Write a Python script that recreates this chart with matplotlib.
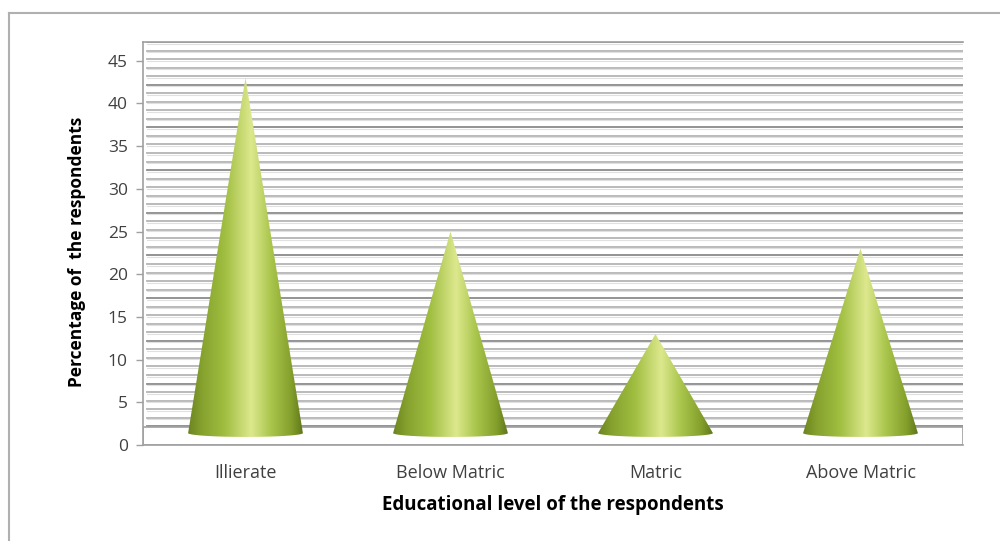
import numpy as np
import matplotlib.pyplot as plt
from matplotlib.patches import Polygon, Rectangle
from matplotlib.colors import LinearSegmentedColormap
from matplotlib.lines import Line2D

plt.rcParams['font.family'] = ['Open Sans', 'DejaVu Sans']

categories = ['Illierate', 'Below Matric', 'Matric', 'Above Matric']
percent = [42, 24, 12, 22]
y_ticks = [0, 5, 10, 15, 20, 25, 30, 35, 40, 45]

# 3D look: back wall is shifted up, cones stand on a thin floor slab
wall_shift = 2.2
floor_top = 2.1
cone_floor = 1.0
base_y = 1.4
half_w = 0.28
ell_h = 0.45

fig = plt.figure(figsize=(10, 5.41), dpi=100)
ax = fig.add_axes([0.143, 0.1774, 0.820, 0.745])
ax.set_xlim(-0.5, 3.5)
ax.set_ylim(0, 47.2)

# back wall grid, one line per unit, darker every 5
for v in range(0, 46):
    y = v + wall_shift
    col = '#8a8a8a' if v % 5 == 0 else '#b4b4b4'
    ax.axhline(y, xmin=0.005, xmax=1, color=col, lw=1.3, zorder=1)
    ax.axhline(y - 0.18, xmin=0.005, xmax=1, color='#e0e0e0', lw=0.8, zorder=1)

# floor slab
ax.add_patch(Rectangle((-0.5, 0), 4.0, floor_top, facecolor='white',
                       edgecolor='#a0a0a0', lw=1.2, zorder=2))

cone_cmap = LinearSegmentedColormap.from_list('cone', [
    (0.00, '#6c8420'), (0.12, '#86a22e'), (0.32, '#a0be40'),
    (0.55, '#dde88e'), (0.72, '#aac64c'), (0.90, '#84a02c'),
    (1.00, '#61781a')])
grad = np.linspace(0, 1, 256).reshape(1, -1)

for i, val in enumerate(percent):
    tip = cone_floor + val
    t = np.linspace(0, np.pi, 60)
    arc_x = i + half_w * np.cos(t)
    arc_y = base_y - ell_h * np.sin(t)
    verts = [(i, tip), (i + half_w, base_y)] + list(zip(arc_x, arc_y)) + [(i - half_w, base_y)]
    clip = Polygon(verts, closed=True, transform=ax.transData)
    im = ax.imshow(grad, cmap=cone_cmap, aspect='auto', interpolation='bicubic',
                   extent=[i - half_w, i + half_w, base_y - ell_h, tip], zorder=3)
    im.set_clip_path(clip)

ax.set_xlim(-0.5, 3.5)
ax.set_ylim(0, 47.2)

ax.set_yticks(y_ticks)
ax.set_xticks(range(len(categories)))
ax.set_xticklabels(categories)
ax.tick_params(axis='x', length=0, pad=14, labelsize=13, labelcolor='#404040')
ax.tick_params(axis='y', length=5, width=1, color='#a0a0a0', pad=6,
               labelsize=12.5, labelcolor='#404040')

for side in ['left', 'top', 'bottom']:
    ax.spines[side].set_color('#a0a0a0')
    ax.spines[side].set_linewidth(1.2)
ax.spines['right'].set_visible(False)

fig.text(0.553, 1 - 505 / 541, 'Educational level of the respondents',
         ha='center', va='center', fontsize=13.5, fontweight='bold')
fig.text(0.077, 1 - 252 / 541, 'Percentage of  the respondents', rotation=90,
         ha='center', va='center', fontsize=12.5, fontweight='bold')

# outer chart border (left and top edges)
fig.add_artist(Line2D([0.0085, 0.0085], [0, 1 - 12.7 / 541], color='#b0b0b0',
                      lw=1.5, transform=fig.transFigure))
fig.add_artist(Line2D([0.0085, 1.0], [1 - 12.7 / 541, 1 - 12.7 / 541], color='#b0b0b0',
                      lw=1.5, transform=fig.transFigure))

fig.savefig('out.png', dpi=100)
